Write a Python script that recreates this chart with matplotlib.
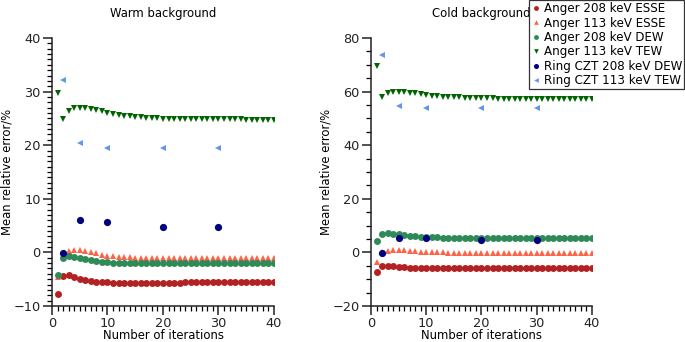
import numpy as np
import matplotlib.pyplot as plt
from matplotlib.ticker import MultipleLocator

iters = np.arange(1, 41)
ring_iters = [2, 5, 10, 20, 30]

# warm background
warm_a208_esse = [-7.7, -4.4, -4.3, -4.6, -4.9, -5.2, -5.4, -5.5, -5.6, -5.6,
                  -5.7, -5.7, -5.7, -5.7, -5.7, -5.7, -5.7, -5.7, -5.7, -5.7,
                  -5.7, -5.7, -5.7, -5.6, -5.6, -5.6, -5.6, -5.6, -5.6, -5.6,
                  -5.6, -5.6, -5.6, -5.6, -5.6, -5.6, -5.6, -5.5, -5.5, -5.5]
warm_a113_esse = [-4.6, -0.5, 0.3, 0.5, 0.4, 0.2, 0.0, -0.2, -0.4, -0.6,
                  -0.7, -0.8, -0.9, -0.9, -1.0, -1.0, -1.0, -1.1, -1.1, -1.1,
                  -1.1, -1.1, -1.1, -1.1, -1.1, -1.1, -1.1, -1.1, -1.1, -1.1,
                  -1.1, -1.1, -1.1, -1.1, -1.1, -1.1, -1.1, -1.1, -1.1, -1.1]
warm_a208_dew = [-4.2, -1.1, -0.6, -0.8, -1.0, -1.2, -1.4, -1.6, -1.7, -1.8,
                 -1.9, -1.9, -1.9, -2.0, -2.0, -2.0, -2.0, -2.0, -2.0, -2.0,
                 -2.0, -2.0, -2.0, -2.0, -2.0, -2.0, -2.0, -2.0, -2.0, -2.0,
                 -2.0, -2.0, -2.0, -2.0, -2.0, -2.0, -2.0, -2.0, -2.0, -2.0]
warm_a113_tew = [29.8, 24.9, 26.3, 26.9, 27.0, 26.9, 26.7, 26.5, 26.3, 26.0,
                 25.8, 25.6, 25.5, 25.4, 25.3, 25.2, 25.1, 25.0, 25.0, 24.9,
                 24.9, 24.9, 24.8, 24.8, 24.8, 24.8, 24.8, 24.8, 24.8, 24.8,
                 24.8, 24.8, 24.8, 24.8, 24.7, 24.7, 24.7, 24.7, 24.7, 24.7]
warm_ring208_dew = [-0.1, 6.1, 5.7, 4.8, 4.7]
warm_ring113_tew = [32.2, 20.5, 19.5, 19.4, 19.4]

# cold background
cold_a208_esse = [-7.5, -5.0, -4.9, -5.1, -5.4, -5.6, -5.7, -5.8, -5.9, -5.9,
                  -5.9, -6.0, -6.0, -6.0, -6.0, -6.0, -6.0, -6.0, -6.0, -6.0,
                  -6.0, -6.0, -6.0, -5.9, -5.9, -5.9, -5.9, -5.9, -5.9, -5.9,
                  -5.9, -5.9, -5.9, -5.9, -5.9, -5.8, -5.8, -5.8, -5.8, -5.8]
cold_a113_esse = [-3.4, 0.2, 0.6, 0.9, 0.9, 0.8, 0.6, 0.5, 0.3, 0.2,
                  0.1, 0.0, 0.0, -0.1, -0.1, -0.1, -0.2, -0.2, -0.2, -0.2,
                  -0.2, -0.2, -0.3, -0.3, -0.3, -0.3, -0.3, -0.3, -0.3, -0.3,
                  -0.3, -0.3, -0.3, -0.3, -0.3, -0.3, -0.3, -0.3, -0.3, -0.3]
cold_a208_dew = [4.3, 6.8, 7.2, 7.0, 6.7, 6.4, 6.2, 6.0, 5.9, 5.7,
                 5.6, 5.6, 5.5, 5.5, 5.5, 5.5, 5.5, 5.5, 5.5, 5.5,
                 5.5, 5.5, 5.5, 5.5, 5.5, 5.5, 5.5, 5.5, 5.5, 5.5,
                 5.5, 5.5, 5.5, 5.5, 5.5, 5.5, 5.5, 5.5, 5.5, 5.5]
cold_a113_tew = [69.5, 58.0, 59.3, 60.0, 60.0, 59.9, 59.6, 59.3, 59.0, 58.7,
                 58.5, 58.3, 58.1, 58.0, 57.9, 57.8, 57.7, 57.6, 57.6, 57.5,
                 57.5, 57.5, 57.4, 57.4, 57.4, 57.4, 57.4, 57.4, 57.4, 57.3,
                 57.3, 57.3, 57.3, 57.3, 57.3, 57.3, 57.3, 57.3, 57.3, 57.3]
cold_ring208_dew = [-0.3, 5.5, 5.3, 4.8, 4.8]
cold_ring113_tew = [73.8, 54.7, 53.8, 53.8, 54.0]

labels = ["Anger 208 keV ESSE", "Anger 113 keV ESSE", "Anger 208 keV DEW",
          "Anger 113 keV TEW", "Ring CZT 208 keV DEW", "Ring CZT 113 keV TEW"]

fig = plt.figure(figsize=(6.85, 3.42), dpi=100)
ax1 = fig.add_axes([0.0759, 0.1053, 0.3241, 0.7836])
ax2 = fig.add_axes([0.5416, 0.1053, 0.3226, 0.7836])


def draw(ax, a208e, a113e, a208d, a113t, r208, r113):
    ax.plot(iters, a208e, "o", color="firebrick", ms=5, mew=0, label=labels[0])
    ax.plot(iters, a113e, "^", color="tomato", ms=4.8, mew=0, label=labels[1])
    ax.plot(iters, a208d, "o", color="seagreen", ms=5, mew=0, label=labels[2])
    ax.plot(iters, a113t, "v", color="darkgreen", ms=4.8, mew=0, label=labels[3])
    ax.plot(ring_iters, r208, "o", color="navy", ms=5.2, mew=0, label=labels[4])
    ax.plot(ring_iters, r113, "<", color="cornflowerblue", ms=4.8, mew=0, label=labels[5])
    ax.set_xlim(0, 40)
    ax.xaxis.set_major_locator(MultipleLocator(10))
    ax.xaxis.set_minor_locator(MultipleLocator(1))
    ax.spines["top"].set_visible(False)
    ax.spines["right"].set_visible(False)
    for s in ["left", "bottom"]:
        ax.spines[s].set_linewidth(1.1)
        ax.spines[s].set_color("#222222")
    ax.tick_params(labelsize=9.3, colors="#222222", pad=2)
    ax.tick_params(which="minor", length=3.4, width=0.9)
    ax.tick_params(which="major", length=6.2, width=1.1)
    ax.set_xlabel("Number of iterations", fontsize=8.4, labelpad=-1)
    ax.set_ylabel("Mean relative error/%", fontsize=8.4, labelpad=0)


draw(ax1, warm_a208_esse, warm_a113_esse, warm_a208_dew, warm_a113_tew,
     warm_ring208_dew, warm_ring113_tew)
ax1.set_ylim(-10, 40)
ax1.yaxis.set_major_locator(MultipleLocator(10))
ax1.yaxis.set_minor_locator(MultipleLocator(1))
ax1.set_title("Warm background", fontsize=8.4, pad=15)

draw(ax2, cold_a208_esse, cold_a113_esse, cold_a208_dew, cold_a113_tew,
     cold_ring208_dew, cold_ring113_tew)
ax2.set_ylim(-20, 80)
ax2.yaxis.set_major_locator(MultipleLocator(20))
ax2.yaxis.set_minor_locator(MultipleLocator(5))
ax2.set_title("Cold background", fontsize=8.4, pad=15)

h, l = ax1.get_legend_handles_labels()
leg = fig.legend(h, l, loc="upper right", bbox_to_anchor=(0.999, 0.999), fontsize=8.6,
                 fancybox=False, edgecolor="#333333", framealpha=1, borderaxespad=0,
                 handletextpad=0.3, handlelength=0.8, labelspacing=0.12,
                 borderpad=0.15, markerscale=0.7)
leg.get_frame().set_linewidth(0.9)

fig.savefig("out.png", dpi=100)
